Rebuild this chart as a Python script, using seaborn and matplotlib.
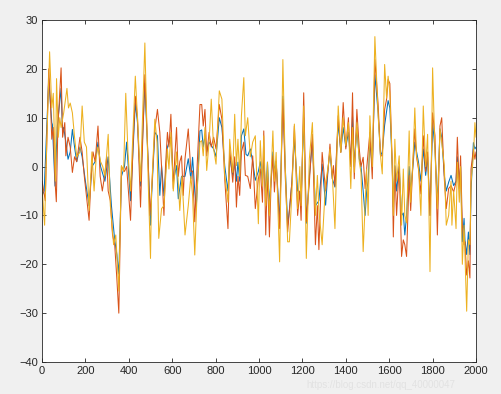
import matplotlib
matplotlib.use("Agg")
import matplotlib.pyplot as plt
import seaborn as sns
import pandas as pd

# ---- data (vertices) ----
blue_x = [0, 10, 31, 45, 48, 60, 70, 88, 95, 100, 110, 120, 130, 140, 150, 160, 175, 185, 200, 217, 230, 245, 258, 270, 290, 305, 320, 335, 345, 354, 366, 380, 390, 408, 430, 440, 454, 474, 490,
          500, 505, 520, 532, 543, 551, 562, 578, 594, 605, 620, 628, 643, 659, 674, 686, 694, 704, 711, 728, 736, 743, 751, 759, 770, 791, 802, 817, 829, 842, 857, 865, 879, 888, 896, 903, 911, 919, 930, 940, 948, 960, 971, 983, 997,
          1006, 1016, 1022, 1031, 1039, 1048, 1064, 1071, 1079, 1095, 1110, 1121, 1132, 1140, 1152, 1163, 1178, 1188, 1194, 1206, 1218, 1232, 1246, 1260, 1276, 1291, 1307, 1319, 1327, 1338, 1350, 1365, 1377, 1388, 1400, 1412, 1423, 1431, 1439, 1451, 1462, 1470, 1480, 1489, 1496,
          1503, 1511, 1522, 1534, 1549, 1560, 1568, 1579, 1595, 1603, 1614, 1619, 1626, 1634, 1646, 1657, 1665, 1672, 1680, 1692, 1699, 1711, 1718, 1735, 1746, 1757, 1768, 1777, 1788, 1800, 1811, 1822, 1834, 1842, 1854, 1863, 1874, 1885, 1897, 1908, 1914, 1923, 1929, 1937, 1945, 1949, 1957, 1965, 1972, 1977, 1988, 1995, 2000]
blue_y = [-6, -5, 18, 9, 8.6, -4, 8, 16, 7, 8, 5, 1.5, 3, 7.6, 4, 1, 4, 2, -3, -8, 0, 1, 5, 0, -3, 2, -8, -15, -18, -22, -2, 0, 5, -7, 13, 9, -4, 17, 0,
          -12, -6, 7, 6.3, -5.9, 0.2, -6, 4, 6, -3, 0.2, -6.6, -2, -2, 1.6, -2.5, 1.9, -5, -8.3, 7.3, 7.5, 4, 6.3, 3, 5, 3.6, 2, 10, 8, 0.2, -5, 2, -1.8, 0.9, -3, 0.9, -3, 6.3, 7.7, 2.5, 2.2, 3.6, 1, -2.8, -1,
          1, -3, 2, -5.9, 0.9, -7.9, 3, -1, 1, -11.3, 14.4, 0, -12, -9, -3, 6, -5, -5.2, -7, 10, -11.6, -2, 5, -8, -7, 0.5, -7.9, 0, 3, -2.5, -4.2, 9, 3, 8, 4, 7, 0.5, 10.4, 0, 8, 1.6, 0, -5, -10, -5,
          -3, 5, 0, 18.8, 11, 2.2, 3, 8.5, 13.5, 12, 0.2, -8.3, 0.2, -5, 0, -10, -9.5, -14, -10, 0, -5, 1, 5, 0.9, -3, 3.6, -1.8, 2, -10, 9, 3.6, -7.9, 7.7, 6, -1.8, -5, -3.2, -1.8, -3.9, -3, 2, -3, 0, -15.4, -10.6, -15, -18, -13.4, -18, -5, 4.9, 3.6, 4]

red_x = [0, 8, 15, 31, 40, 45, 52, 60, 66, 73, 88, 95, 105, 110, 120, 130, 140, 150, 160, 175, 185, 195, 205, 217, 225, 235, 245, 258, 268, 278, 288, 298, 305, 315, 325, 335, 345, 354, 366, 380, 390, 408, 420, 430, 440, 454, 474, 490, 497,
         505, 520, 532, 543, 551, 562, 569, 578, 585, 594, 605, 612, 620, 628, 635, 643, 651, 659, 674, 686, 694, 704, 711, 728, 736, 743, 751, 759, 770, 780, 791, 802, 817, 829, 842, 857, 865, 879, 888, 896, 903, 911, 919, 930, 937, 948, 960, 971, 983, 997,
         1006, 1016, 1022, 1031, 1039, 1048, 1056, 1064, 1071, 1079, 1095, 1110, 1121, 1132, 1140, 1152, 1163, 1178, 1188, 1194, 1206, 1218, 1232, 1246, 1260, 1269, 1276, 1291, 1307, 1319, 1327, 1338, 1343, 1350, 1365, 1377, 1388, 1400, 1412, 1423, 1431, 1439, 1451, 1462, 1470, 1480, 1489, 1496,
         1503, 1511, 1522, 1534, 1549, 1560, 1568, 1579, 1588, 1595, 1603, 1614, 1619, 1626, 1634, 1646, 1657, 1665, 1672, 1680, 1692, 1699, 1711, 1718, 1726, 1735, 1746, 1757, 1768, 1777, 1788, 1800, 1811, 1822, 1834, 1842, 1854, 1863, 1874, 1885, 1897, 1908, 1914, 1923, 1929, 1937, 1945, 1949, 1957, 1965, 1972, 1977, 1988, 1995, 2000]
red_y = [-3, -5, -7, 20, 12, 5.6, 8, -3, -7.2, 8, 20.2, 6, 9, 2.2, 6, 4, -1.2, 2, 1, 6, 3, -2, -6, -11, -3, 3, 1, 8.3, -2, -5, -2, 2, -5, -7, -14, -16, -23, -30, 0, -1, 0, -11, 5, 14.4, 10, -8.3, 18.8, 0, -10,
         -5, 7.7, 11.7, 7, 0, -10, 0, 7, 4, 10.7, -4.5, 2, 8, -2, 1, 2.2, -5.9, 1.6, 7.7, -1, -0.9, -11.3, -3.7, 12.7, 12.7, 8.3, 11.7, 2.2, 7, 4, 6, 3.6, 12.7, 9.7, -2.5, -12.7, 3.6, -3.2, 2, -8.3, -2, -5.9, 3, 5, -1.8, -2, -4.5, 2.2, -8.6, -2.5,
         -0.5, -7.3, 7.3, -14, -1, -14.4, -3, 2.2, -5.2, 1, -12.7, 13.8, -2, -13.4, -9, -3, 8.3, -10, -5, -11, 15.1, -11.3, -3.2, 6.6, -16, -8, -17, 2.9, -5, -0.2, 4.6, -2.5, 0.2, -4, 10.4, 2.9, 13.1, 3.6, 10, 0, 15.1, -2.5, 11.7, 3.6, 0, 1.9, -4.5, -0.5,
         3, 7, -2.5, 21.9, 12.7, 2.2, 2.2, 11.7, 13.8, 17.8, 17, 0.2, -14.4, 0, -10, 0.2, -18.4, -15, -16, -18.4, -1.8, -9, 2.2, 7.7, 2, -0.5, -5.6, 6.3, -1, 3, -10, 11, 6.3, -14, 8.3, 10, -2.5, -8.6, -4.5, -3.9, -5.2, -3.2, 6, -4.5, 2.2, -12, -16, -15.4, -22.2, -19.3, -22.8, -0.5, 3.6, 1.5, 3]

yellow_x = [0, 12, 22, 35, 45, 52, 62, 67, 75, 82, 88, 100, 115, 122, 130, 140, 150, 160, 175, 185, 195, 205, 217, 230, 240, 250, 258, 270, 280, 290, 305, 315, 330, 340, 354, 366, 376, 386, 396, 408, 430, 440, 454, 474, 490, 500,
            505, 520, 530, 538, 551, 562, 578, 585, 594, 605, 620, 635, 645, 659, 674, 686, 694, 704, 715, 728, 736, 743, 751, 759, 770, 780, 791, 802, 817, 829, 842, 857, 865, 879, 888, 896, 903, 911, 919, 930, 937, 948, 960, 971, 983, 997,
            1006, 1016, 1022, 1031, 1039, 1048, 1064, 1071, 1079, 1095, 1110, 1121, 1132, 1140, 1152, 1163, 1178, 1188, 1194, 1206, 1218, 1232, 1246, 1260, 1269, 1276, 1291, 1307, 1319, 1327, 1338, 1350, 1365, 1377, 1388, 1400, 1412, 1423, 1431, 1439, 1451, 1462, 1470, 1480, 1496,
            1503, 1511, 1522, 1534, 1549, 1560, 1568, 1579, 1588, 1595, 1603, 1614, 1619, 1626, 1634, 1646, 1657, 1665, 1672, 1680, 1692, 1699, 1711, 1718, 1726, 1735, 1746, 1757, 1768, 1777, 1788, 1800, 1811, 1822, 1834, 1842, 1854, 1863, 1874, 1885, 1889, 1897, 1908, 1914, 1923, 1929, 1937, 1945, 1957, 1965, 1972, 1977, 1988, 1995, 2000]
yellow_y = [-4, -12, 5, 23.5, 12, 15, -3, 18, 6, 10, 8, 11, 16, 12, 13, 11, 6, 2, 3, 12.4, 5, 4, -9, 3, -5, 2, 4, 1, 0, -2, 6.6, -8, -16, -14, -25.5, 0.2, -1, 15, 3, -5, 18.5, 10, -3, 25.3, -4, -18.8,
            -5, 9.7, 5, -14.7, -8.6, -8, 3.6, -0.5, 7, -5, 3, -9, -2, -14, -8, -2, -6, -18.1, -5, 5, 5.3, 2.2, 8, -0.8, 5, 13.8, 3.6, 0.5, 15.5, 13.8, -1.8, -7.3, 5.6, -1.2, 10.7, 0.2, 5.6, -2, 10.4, 18.2, 6.3, 10, 2, 5, 6.3, -11.7,
            5.3, -4, 6.3, -8, 0.9, -10, 7.3, -3, 2.9, -19.5, 21.9, 0, -15.4, -15.4, -5, 8.7, -8.6, 0, -8, 12.4, -18.8, 1.6, 9, -10, -1.8, -9, -16, -3.2, 0, 3.6, -2, -12.7, 12.4, 2.9, 10, 4.3, 9, -4.5, 8, -1.2, 9, 1, -1.2, -17.4, -0.5,
            -10, 10.4, 0, 26.6, 10.4, 2.2, -1.5, 20.9, 14, 18.5, 15, 0, -10, 5.6, -3, 2.2, -12, -0.5, -10, -11.5, 7.3, -7.3, 3, 12, 2.2, 0, -10, 12.4, 0, 6.6, -21.5, 20.2, 3, -8.6, 7.7, 5, 0.2, -12, -10, -3, -12, -5, -12.7, 0.9, -7.3, 0, -20, -12, -29.6, -15, -16, -3.2, 2, 9, 6]

x_ticks = [0, 200, 400, 600, 800, 1000, 1200, 1400, 1600, 1800, 2000]
y_ticks = [-40, -30, -20, -10, 0, 10, 20, 30]
colors = ["#0072BD", "#D95319", "#EDB120"]

df = pd.concat([
    pd.DataFrame({"x": blue_x, "y": blue_y, "s": "1"}),
    pd.DataFrame({"x": red_x, "y": red_y, "s": "2"}),
    pd.DataFrame({"x": yellow_x, "y": yellow_y, "s": "3"}),
], ignore_index=True)

sns.set_style("white")
plt.rcParams["font.family"] = ["Liberation Sans", "DejaVu Sans"]

fig = plt.figure(figsize=(5.01, 3.94), dpi=100, facecolor="#F0F0F0")
ax = fig.add_axes([42/501, 1-362/394, (476-42)/501, (362-20)/394])
ax.set_facecolor("white")

sns.lineplot(data=df, x="x", y="y", hue="s", palette=colors, estimator=None,
             sort=False, linewidth=0.75, legend=False, ax=ax)

ax.set_xlim(0, 2000)
ax.set_ylim(-40, 30)
ax.set_xticks(x_ticks)
ax.set_yticks(y_ticks)
ax.set_xlabel("")
ax.set_ylabel("")
ax.tick_params(direction="in", length=3, width=0.6, colors="#262626",
               labelsize=8, top=True, right=True, bottom=True, left=True, pad=3)
for sp in ax.spines.values():
    sp.set_visible(True)
    sp.set_color("#262626")
    sp.set_linewidth(0.6)

fig.text(0.76, 0.022, "https://blog.csdn.net/qq_40000047", ha="center", va="center",
         fontsize=7, color="#E2E2E2")

fig.savefig("out.png", dpi=100, facecolor=fig.get_facecolor())
